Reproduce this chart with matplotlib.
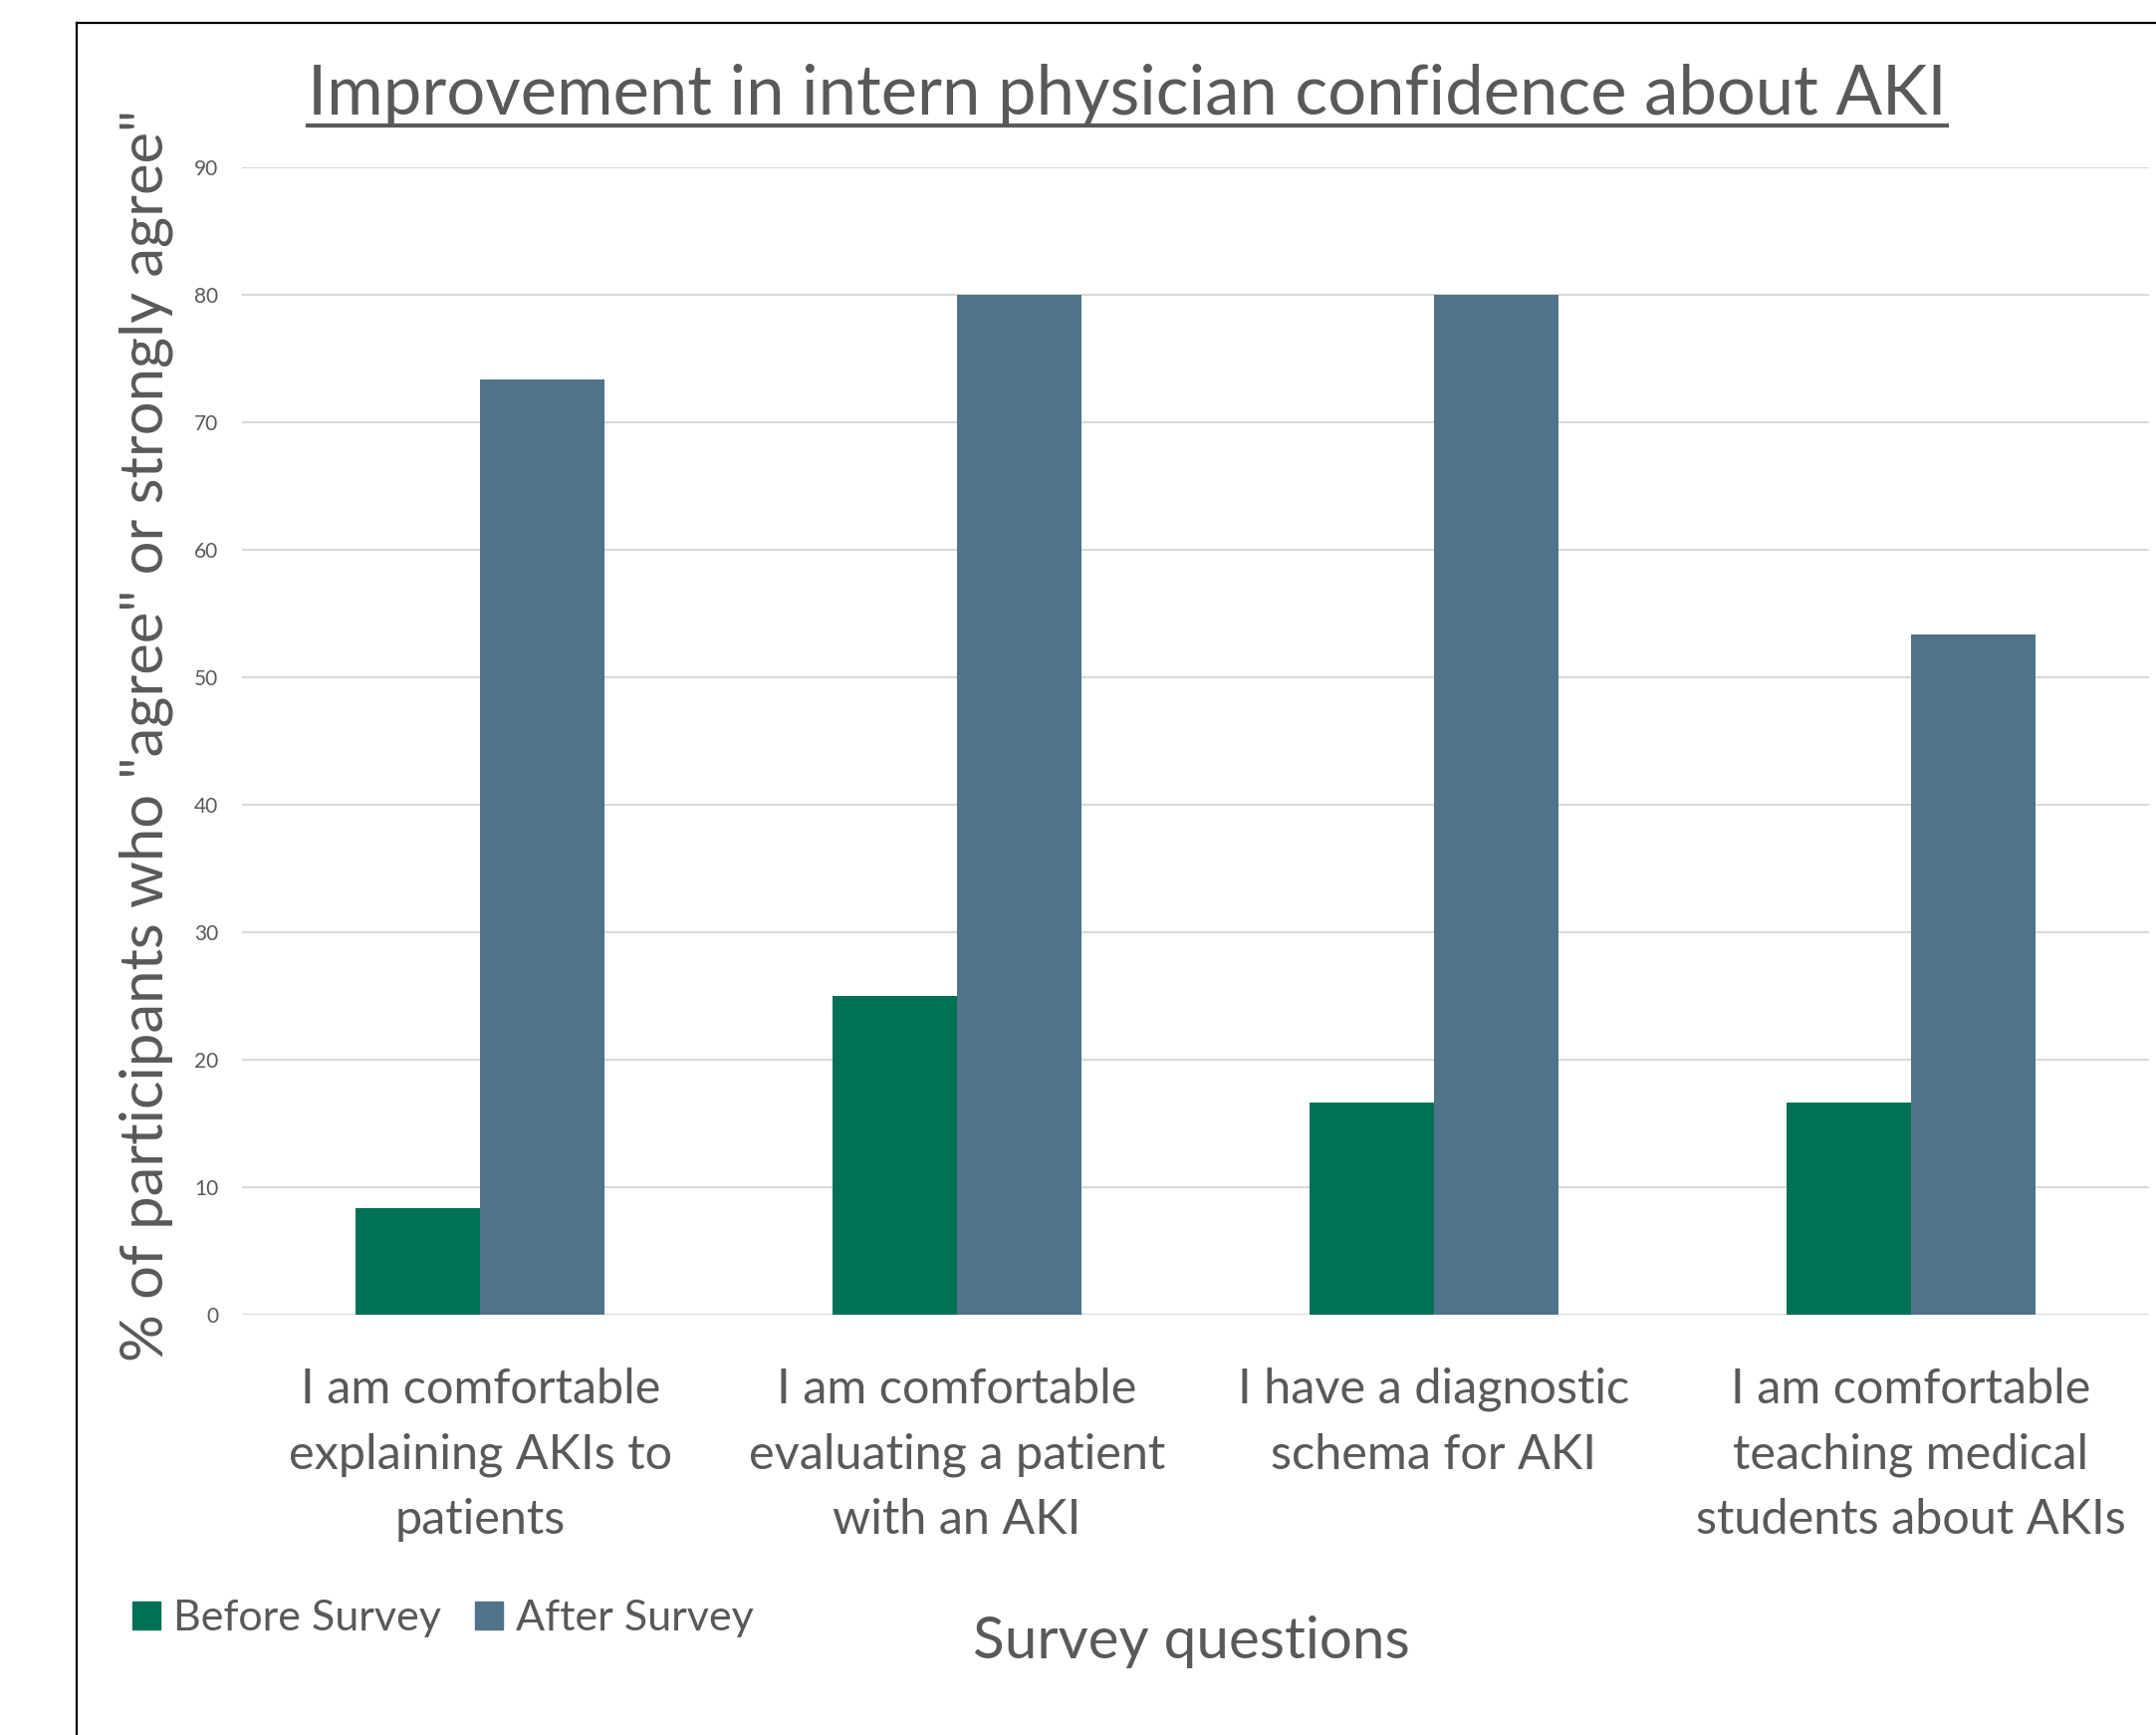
import numpy as np
import matplotlib.pyplot as plt
from matplotlib.lines import Line2D
from matplotlib.patches import Patch

plt.rcParams['font.family'] = ['Lato', 'DejaVu Sans']

questions = ["I am comfortable\nexplaining AKIs to\npatients",
             "I am comfortable\nevaluating a patient\nwith an AKI",
             "I have a diagnostic\nschema for AKI",
             "I am comfortable\nteaching medical\nstudents about AKIs"]
before = [8.33, 25.0, 16.67, 16.67]
after = [73.33, 80.0, 80.0, 53.33]
yticks = [0, 10, 20, 30, 40, 50, 60, 70, 80, 90]

green = '#007155'
slate = '#4F7489'
txt = '#595959'

W, H = 2165, 1742
fig = plt.figure(figsize=(W/100, H/100), dpi=100)
ax = fig.add_axes([243/W, 1-1320/H, (2158-243)/W, (1320-168)/H])

x = np.arange(len(questions))
bw = 0.261
ax.bar(x - bw/2, before, bw, color=green, label='Before Survey', zorder=3)
ax.bar(x + bw/2, after, bw, color=slate, label='After Survey', zorder=3)

ax.set_xlim(-0.5, len(questions) - 0.5)
ax.set_ylim(0, 90)
ax.set_yticks(yticks)
ax.set_yticklabels([str(t) for t in yticks], fontsize=15, color=txt)
ax.set_xticks(x)
ax.set_xticklabels(questions, fontsize=35, color=txt, linespacing=1.6)
ax.tick_params(axis='y', length=0, pad=17)
ax.tick_params(axis='x', length=0, pad=38)
ax.grid(axis='y', color='#D9D9D9', lw=1.5, zorder=0)
ax.set_axisbelow(True)
for s in ax.spines.values():
    s.set_visible(False)

fig.text(147/W, 1-738/H, '% of participants who "agree" or strongly agree"',
         rotation=90, ha='center', va='center', fontsize=43, color=txt)
fig.text(1196/W, 1-1648/H, 'Survey questions', ha='center', va='center',
         fontsize=42, color=txt)

title = fig.text(1132/W, 1-115/H, 'Improvement in intern physician confidence about AKI',
                 ha='center', va='baseline', fontsize=49.5, color=txt)

handles = [Patch(color=green), Patch(color=slate)]
fig.legend(handles, ['Before Survey', 'After Survey'], loc='center left',
           bbox_to_anchor=(133/W, 1-1625/H), ncol=2, frameon=False,
           fontsize=31, labelcolor=txt, handlelength=0.65, handleheight=0.65,
           handletextpad=0.3, columnspacing=0.8, borderpad=0, borderaxespad=0)

# underline under the title
fig.canvas.draw()
bb = title.get_window_extent().transformed(fig.transFigure.inverted())
fig.add_artist(Line2D([bb.x0, bb.x1], [1-126/H, 1-126/H], color=txt, lw=3))

# outer frame, open to the right and bottom
fig.add_artist(Line2D([77/W, 77/W], [0, 1-23/H], color='black', lw=1.6))
fig.add_artist(Line2D([77/W, 1], [1-23/H, 1-23/H], color='black', lw=1.6))

fig.savefig('out.png', dpi=100)
